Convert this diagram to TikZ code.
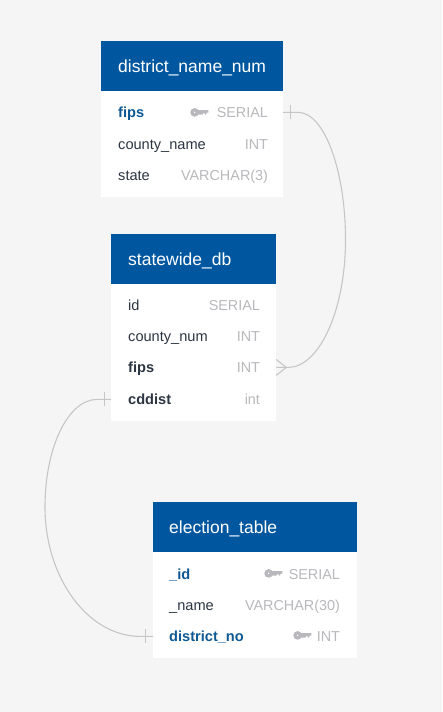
\documentclass[tikz,border=0pt]{standalone}
\usepackage{fontspec}
\setmainfont{Liberation Sans}
\usetikzlibrary{positioning,calc}

\definecolor{pagegrey}{HTML}{F5F5F5}
\definecolor{headblue}{HTML}{01579F}
\definecolor{keyblue}{HTML}{0F5A94}
\definecolor{fieldink}{HTML}{2C3542}
\definecolor{typegrey}{HTML}{B9B9BD}
\definecolor{linkgrey}{HTML}{C6C6C6}

\begin{document}
\begin{tikzpicture}[x=1pt,y=1pt]

  \tikzset{
    head/.style = {fill=headblue, text=white, font=\fontsize{17.5}{19}\selectfont, minimum height=50pt, inner sep=0pt, anchor=north west, text height=16pt, text depth=4pt, align=left},
    tablerow/.style = {fill=white, minimum height=31.4pt, inner sep=0pt, outer sep=0pt},
    field/.style = {font=\fontsize{14.6}{16}\selectfont, inner sep=0pt, text=fieldink, text height=13pt, text depth=3pt, anchor=west},
    pkfield/.style = {field, text=keyblue, font=\fontsize{14.6}{16}\selectfont\bfseries},
    fkfield/.style = {field, font=\fontsize{14.6}{16}\selectfont\bfseries},
    dbtype/.style = {font=\fontsize{14.4}{16}\selectfont, inner sep=0pt, text=typegrey, text height=13pt, text depth=3pt, anchor=east},
    link/.style = {draw=linkgrey, line width=1.1pt},
    keyicon/.pic = {
      \draw[typegrey, line width=3.2pt] (-4.8,0) circle (2.6pt);
      \fill[typegrey] (-2.5,-2.2) -- (3,-2.2) -- (4.5,-0.2) -- (6,-2.4) -- (7.5,-0.2) -- (9,-0.2) -- (9,2.4) -- (-2.5,2.4) -- cycle;
    }
  }

  \fill[pagegrey] (0,0) rectangle (442,-712);
  \useasboundingbox (0,0) rectangle (442,-712);

  %district_name_num
  \node[head, minimum width=182pt, text width=182pt] (dnhead) at (101,-41) {\kern17pt district\_name\_num};
  \node[tablerow, minimum width=182pt, minimum height=37pt, anchor=north] (dnfips) at (dnhead.south) {};
  \node[tablerow, minimum width=182pt, below=0pt of dnfips] (dncounty) {};
  \node[tablerow, minimum width=182pt, minimum height=37.6pt, below=0pt of dncounty] (dnstate) {};
  \node[pkfield] (dnfipsname) at ($(dnhead.south west)+(17,-21)$) {fips};
  \node[dbtype, left=15pt of dnfips.east |- dnfipsname] (dnfipstype) {SERIAL};
  \pic at ($(dnhead.south east)+(-84,-21)$) {keyicon};
  \node[field] (dncountyname) at ($(dnhead.south west)+(17,-53)$) {county\_name};
  \node[dbtype, left=15pt of dnfips.east |- dncountyname] (dncountytype) {INT};
  \node[field] (dnstatename) at ($(dnhead.south west)+(17,-84)$) {state};
  \node[dbtype, left=15pt of dnfips.east |- dnstatename] (dnstatetype) {VARCHAR(3)};

  %statewide_db
  \node[head, minimum width=165pt, text width=165pt] (sdhead) at (111,-234) {\kern17pt statewide\_db};
  \node[tablerow, minimum width=165pt, minimum height=37pt, anchor=north] (sdid) at (sdhead.south) {};
  \node[tablerow, minimum width=165pt, below=0pt of sdid] (sdcounty) {};
  \node[tablerow, minimum width=165pt, below=0pt of sdcounty] (sdfips) {};
  \node[tablerow, minimum width=165pt, minimum height=37pt, below=0pt of sdfips] (sdcddist) {};
  \node[field] (sdidname) at ($(sdhead.south west)+(17,-21)$) {id};
  \node[dbtype, left=16pt of sdid.east |- sdidname] (sdidtype) {SERIAL};
  \node[field] (sdcountyname) at ($(sdhead.south west)+(17,-52)$) {county\_num};
  \node[dbtype, left=16pt of sdid.east |- sdcountyname] (sdcountytype) {INT};
  \node[fkfield] (sdfipsname) at ($(sdhead.south west)+(17,-83)$) {fips};
  \node[dbtype, left=16pt of sdid.east |- sdfipsname] (sdfipstype) {INT};
  \node[fkfield] (sdcddistname) at ($(sdhead.south west)+(17,-115)$) {cddist};
  \node[dbtype, left=16pt of sdid.east |- sdcddistname] (sdcddisttype) {int};

  %election_table
  \node[head, minimum width=204pt, text width=204pt] (ethead) at (153,-502) {\kern16pt election\_table};
  \node[tablerow, minimum width=204pt, minimum height=37pt, anchor=north] (etid) at (ethead.south) {};
  \node[tablerow, minimum width=204pt, below=0pt of etid] (etname) {};
  \node[tablerow, minimum width=204pt, minimum height=37.6pt, below=0pt of etname] (etdistrict) {};
  \node[pkfield] (etidname) at ($(ethead.south west)+(16,-22)$) {\_id};
  \node[dbtype, left=17pt of etid.east |- etidname] (etidtype) {SERIAL};
  \pic at ($(ethead.south east)+(-84,-21)$) {keyicon};
  \node[field] (etnamename) at ($(ethead.south west)+(16,-53)$) {\_name};
  \node[dbtype, left=17pt of etid.east |- etnamename] (etnametype) {VARCHAR(30)};
  \node[pkfield] (etdistrictname) at ($(ethead.south west)+(16,-84)$) {district\_no};
  \node[dbtype, left=17pt of etid.east |- etdistrictname] (etdistricttype) {INT};
  \pic at ($(ethead.south east)+(-55,-83)$) {keyicon};

  %links
  \coordinate (dnport) at (dnfips.east |- dnfipsname);
  \coordinate (sdport) at (sdfips.east |- sdfipsname);
  \coordinate (cdport) at (sdfips.west |- sdcddistname);
  \coordinate (etport) at (etdistrict.west |- etdistrictname);

  \draw[link] (dnport) -- ++(15,0) .. controls +(26,0) and +(0,70) .. (345.5,-240)
     .. controls +(0,-70) and +(31,0) .. ($(sdport)+(12,0)$) -- (sdport);
  \draw[link] (cdport) -- ++(-14,0) .. controls +(-29,0) and +(0,60) .. (45,-507)
     .. controls +(0,-71) and +(-52,0) .. ($(etport)+(-13,0)$) -- (etport);

  %ends
  \draw[link] ($(dnport)+(7,7)$) -- ++(0,-14);
  \draw[link] ($(cdport)+(-7,7)$) -- ++(0,-14);
  \draw[link] ($(etport)+(-8,7)$) -- ++(0,-14);
  \draw[link] ($(sdport)+(0,8)$) -- ++(10,-8) -- ++(-10,-8);

\end{tikzpicture}
\end{document}
